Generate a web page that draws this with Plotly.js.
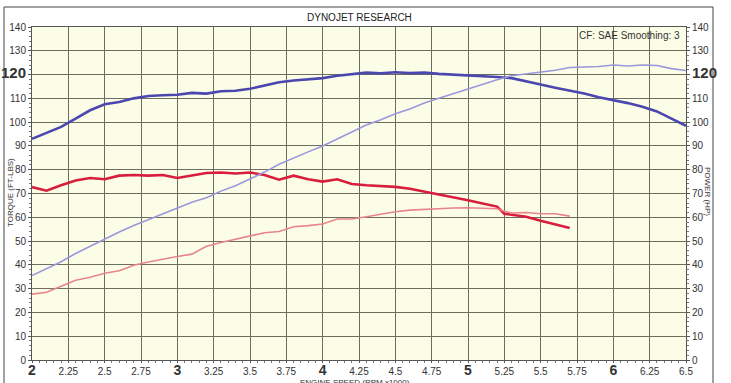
<!DOCTYPE html>
<html><head><meta charset="utf-8">
<script src="https://cdn.plot.ly/plotly-3.0.1.min.js"></script>
<style>html,body{margin:0;padding:0;background:#fff;}#chart{width:731px;height:383px;}</style>
</head><body><div id="chart"></div>
<script>
const rpmRun1 = [2.0,2.1,2.2,2.3,2.4,2.5,2.6,2.7,2.8,2.9,3.0,3.1,3.2,3.3,3.4,3.5,3.6,3.7,3.8,3.9,4.0,4.1,4.2,4.3,4.4,4.5,4.6,4.7,4.8,4.9,5.0,5.1,5.2,5.3,5.4,5.5,5.6,5.7,5.8,5.9,6.0,6.1,6.2,6.3,6.4,6.5];
const torqueRun1 = [93,95.5,98,101.5,105,107.5,108.5,110,111,111.3,111.5,112.3,112,113,113.2,114,115.5,116.8,117.5,118,118.5,119.5,120.3,120.8,120.5,121,120.6,120.8,120.3,120,119.8,119.3,119,118.5,117,115.8,114.5,113.3,112,110.5,109.3,108,106.5,104.5,101.5,98.5];
const powerRun1 = [35.5,38.5,41.3,44.8,47.8,51,53.8,56.5,59,61.5,63.8,66.3,68.2,71,73.3,76,79,82.3,85,87.5,90,93,96,98.8,101,103.5,105.5,108,110,112,114,115.8,117.8,119.5,120.3,121.3,121.8,123,123.2,123.4,124,123.6,124,123.8,122.5,121.7];
const rpmRun2 = [2.0,2.1,2.2,2.3,2.4,2.5,2.6,2.7,2.8,2.9,3.0,3.1,3.2,3.3,3.4,3.5,3.6,3.7,3.8,3.9,4.0,4.1,4.2,4.3,4.4,4.5,4.6,4.7,4.8,4.9,5.0,5.1,5.2,5.25,5.3,5.4,5.5,5.6,5.7];
const torqueRun2 = [72.7,71.2,73.5,75.5,76.5,76,77.5,77.8,77.5,77.8,76.5,77.5,78.6,78.8,78.4,78.8,77.8,75.8,77.5,76,75,76,74,73.5,73.3,72.8,72,70.8,69.8,68.5,67.2,65.8,64.5,61.5,61,60.2,58.5,57,55.5];
const powerRun2 = [27.7,28.5,31,33.5,34.8,36.5,37.5,39.8,41.2,42.5,43.5,44.5,47.8,49.4,50.7,52.3,53.5,54,56,56.5,57.2,59.3,59.3,60.2,61.3,62.3,63,63.3,63.8,63.9,64,63.8,63.6,62.5,61.8,62,61.5,61.5,60.5];
const xTickVals = [2,2.25,2.5,2.75,3,3.25,3.5,3.75,4,4.25,4.5,4.75,5,5.25,5.5,5.75,6,6.25,6.5];
const xTickText = ['<b style="font-size:14px">2</b>','2.25','2.5','2.75','<b style="font-size:14px">3</b>','3.25','3.5','3.75','<b style="font-size:14px">4</b>','4.25','4.5','4.75','<b style="font-size:14px">5</b>','5.25','5.5','5.75','<b style="font-size:14px">6</b>','6.25','6.5'];
const yTickVals = [0,10,20,30,40,50,60,70,80,90,100,110,120,130,140];
const yTickText = ['0','10','20','30','40','50','60','70','80','90','100','110','<b style="font-size:15px">120</b>','130','140'];
const chartTitle = 'DYNOJET RESEARCH';
const noteText = 'CF: SAE Smoothing: 3';
const xTitle = 'ENGINE SPEED (RPM x1000)';
const yTitle = 'TORQUE (FT-LBS)';
const y2Title = 'POWER (HP)';

const gridCol = '#6e6e60';
const tickFont = {family:'Liberation Sans, Arial, sans-serif', size:10, color:'#333'};
const traces = [
  {x: rpmRun1, y: powerRun1, yaxis:'y2', mode:'lines', line:{color:'#9a98dc', width:1.6}},
  {x: rpmRun2, y: powerRun2, yaxis:'y2', mode:'lines', line:{color:'#e8848c', width:1.6}},
  {x: rpmRun1, y: torqueRun1, mode:'lines', line:{color:'#4b47ae', width:2.6}},
  {x: rpmRun2, y: torqueRun2, mode:'lines', line:{color:'#d81e3c', width:2.6}}
];
const axisY = {range:[0,140], tickvals:yTickVals, ticktext:yTickText, showgrid:true, gridcolor:gridCol, gridwidth:1,
  zeroline:false, ticks:'outside', ticklen:3, tickcolor:'#555', tickfont:tickFont, showline:true, linecolor:'#555', linewidth:1,
  minor:{dtick:2, ticks:'outside', ticklen:2, tickcolor:'#777', showgrid:false}};
const layout = {
  width:731, height:383, showlegend:false,
  margin:{l:32, r:45, t:27, b:23},
  paper_bgcolor:'#ffffff', plot_bgcolor:'#fbfde7',
  font:{family:'Liberation Sans, Arial, sans-serif', color:'#333'},
  xaxis:{range:[2,6.5], tickvals:xTickVals, ticktext:xTickText, showgrid:true, gridcolor:gridCol, gridwidth:1, zeroline:false,
    ticks:'outside', ticklen:2, tickcolor:'#555', tickfont:tickFont, showline:true, linecolor:'#555', linewidth:1, mirror:true,
    minor:{dtick:0.05, ticks:'outside', ticklen:2, tickcolor:'#777', showgrid:false}},
  yaxis: Object.assign({}, axisY),
  yaxis2: Object.assign({}, axisY, {overlaying:'y', side:'right', showgrid:false}),
  shapes:[{type:'rect', xref:'paper', yref:'paper', x0:(4-32)/654, x1:(713-32)/654, y0:-0.2, y1:(360-7)/333, line:{color:'#444', width:1}, layer:'below'}],
  annotations:[
    {text:chartTitle, xref:'paper', yref:'paper', x:(360-32)/654, y:(360-17)/333, xanchor:'center', yanchor:'middle', showarrow:false, font:{size:10, color:'#222'}},
    {text:noteText, xref:'paper', yref:'paper', x:(682-32)/654, y:(360-35)/333, xanchor:'right', yanchor:'middle', showarrow:false, font:{size:10, color:'#333'}},
    {text:xTitle, xref:'paper', yref:'paper', x:(355-32)/654, y:(360-382)/333, xanchor:'center', yanchor:'middle', showarrow:false, font:{size:8, color:'#333'}},
    {text:yTitle, xref:'paper', yref:'paper', x:(10-32)/654, y:(360-193)/333, xanchor:'center', yanchor:'middle', textangle:-90, showarrow:false, font:{size:8, color:'#333'}},
    {text:y2Title, xref:'paper', yref:'paper', x:(708-32)/654, y:(360-191)/333, xanchor:'center', yanchor:'middle', textangle:90, showarrow:false, font:{size:8, color:'#333'}}
  ]
};
Plotly.newPlot('chart', traces, layout, {staticPlot:true, displayModeBar:false});
</script></body></html>
